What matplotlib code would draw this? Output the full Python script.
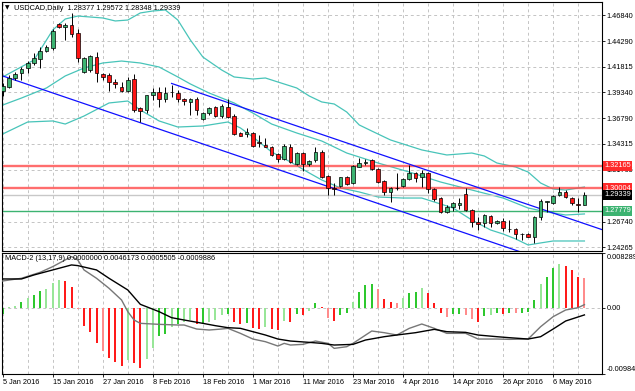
import matplotlib
matplotlib.use('Agg')
import matplotlib.pyplot as plt
from matplotlib.transforms import blended_transform_factory
import numpy as np

plt.rcParams['font.family'] = ['Liberation Sans', 'DejaVu Sans']

# ---------------- data ----------------
symbol = 'USDCAD,Daily'
date_labels = ['5 Jan 2016', '15 Jan 2016', '27 Jan 2016', '8 Feb 2016', '18 Feb 2016',
               '1 Mar 2016', '11 Mar 2016', '23 Mar 2016', '4 Apr 2016', '14 Apr 2016',
               '26 Apr 2016', '6 May 2016']
label_bars = [0, 8, 16, 24, 32, 40, 48, 56, 64, 72, 80, 88]

opens = [1.3947, 1.3981, 1.4068, 1.4117, 1.4165, 1.4214, 1.4253, 1.4337, 1.4360, 1.4594,
         1.4570, 1.4587, 1.4506, 1.4129, 1.4149, 1.4275, 1.4110, 1.4100, 1.4032, 1.3983,
         1.3945, 1.4061, 1.3779, 1.3760, 1.3906, 1.3935, 1.3867, 1.3930, 1.3922, 1.3867,
         1.3840, 1.3867, 1.3669, 1.3728, 1.3786, 1.3701, 1.3792, 1.3701, 1.3539, 1.3523,
         1.3539, 1.3448, 1.3419, 1.3403, 1.3332, 1.3280, 1.3403, 1.3234, 1.3338, 1.3234,
         1.3273, 1.3354, 1.3117, 1.2998, 1.3020, 1.3105, 1.3046, 1.3208, 1.3247, 1.3273,
         1.3183, 1.3072, 1.2965, 1.3004, 1.3020, 1.3085, 1.3144, 1.3105, 1.3144, 1.2988,
         1.2901, 1.2770, 1.2819, 1.2835, 1.2942, 1.2787, 1.2673, 1.2657, 1.2728, 1.2657,
         1.2680, 1.2599, 1.2599, 1.2553, 1.2553, 1.2527, 1.2716, 1.2868, 1.2858, 1.2933,
         1.2965, 1.2901, 1.2845, 1.28377]
highs = [1.4019, 1.4100, 1.4132, 1.4175, 1.4239, 1.4311, 1.4376, 1.4392, 1.4545, 1.4603,
         1.4603, 1.4701, 1.4545, 1.4278, 1.4295, 1.4327, 1.4123, 1.4117, 1.4058, 1.4035,
         1.4078, 1.4110, 1.3792, 1.3910, 1.3971, 1.3981, 1.3981, 1.4003, 1.3954, 1.3874,
         1.3874, 1.3889, 1.3743, 1.3792, 1.3799, 1.3818, 1.3864, 1.3721, 1.3549, 1.3582,
         1.3549, 1.3516, 1.3484, 1.3410, 1.3344, 1.3429, 1.3429, 1.3354, 1.3354, 1.3273,
         1.3403, 1.3370, 1.3127, 1.3046, 1.3111, 1.3117, 1.3224, 1.3290, 1.3280, 1.3280,
         1.3192, 1.3079, 1.3014, 1.3144, 1.3095, 1.3224, 1.3159, 1.3176, 1.3159, 1.2998,
         1.2910, 1.2835, 1.2868, 1.2901, 1.2998, 1.2793, 1.2722, 1.2748, 1.2738, 1.2689,
         1.2706, 1.2689, 1.2609, 1.2566, 1.2560, 1.2728, 1.2891, 1.2877, 1.2933, 1.3014,
         1.2981, 1.2916, 1.2901, 1.29572]
lows = [1.3896, 1.3970, 1.4052, 1.4052, 1.4117, 1.4198, 1.4165, 1.4327, 1.4344, 1.4555,
        1.4441, 1.4473, 1.4230, 1.4117, 1.4132, 1.4035, 1.4052, 1.3947, 1.3971, 1.3938,
        1.3938, 1.3743, 1.3646, 1.3728, 1.3857, 1.3792, 1.3840, 1.3889, 1.3840, 1.3808,
        1.3711, 1.3711, 1.3662, 1.3711, 1.3695, 1.3679, 1.3679, 1.3516, 1.3507, 1.3500,
        1.3397, 1.3403, 1.3397, 1.3312, 1.3257, 1.3273, 1.3241, 1.3225, 1.3169, 1.3215,
        1.3257, 1.3098, 1.2933, 1.2933, 1.3014, 1.3030, 1.3040, 1.3202, 1.3224, 1.3176,
        1.3046, 1.2933, 1.2868, 1.2981, 1.3014, 1.3079, 1.3062, 1.3014, 1.2949, 1.2877,
        1.2755, 1.2760, 1.2780, 1.2793, 1.2780, 1.2624, 1.2592, 1.2618, 1.2618, 1.2650,
        1.2585, 1.2576, 1.2502, 1.2495, 1.2521, 1.2463, 1.2689, 1.2770, 1.2845, 1.2923,
        1.2901, 1.2835, 1.2770, 1.28348]
closes = [1.3993, 1.4068, 1.4110, 1.4156, 1.4214, 1.4263, 1.4337, 1.4370, 1.4531, 1.4564,
          1.4582, 1.4499, 1.4263, 1.4266, 1.4285, 1.4120, 1.4081, 1.4032, 1.4013, 1.3945,
          1.4052, 1.3760, 1.3750, 1.3906, 1.3935, 1.3867, 1.3925, 1.3935, 1.3864, 1.3850,
          1.3867, 1.3760, 1.3728, 1.3776, 1.3701, 1.3799, 1.3695, 1.3526, 1.3510, 1.3549,
          1.3409, 1.3436, 1.3403, 1.3322, 1.3280, 1.3409, 1.3257, 1.3344, 1.3234, 1.3266,
          1.3354, 1.3111, 1.2998, 1.2991, 1.3105, 1.3040, 1.3215, 1.3247, 1.3257, 1.3183,
          1.3062, 1.2965, 1.2998, 1.3001, 1.3085, 1.3144, 1.3095, 1.3144, 1.2988, 1.2891,
          1.2770, 1.2819, 1.2852, 1.2852, 1.2787, 1.2673, 1.2650, 1.2738, 1.2663, 1.2680,
          1.2609, 1.2605, 1.2553, 1.2550, 1.2527, 1.2722, 1.2877, 1.2872, 1.2923, 1.2965,
          1.2910, 1.2852, 1.2838, 1.29339]

# Bollinger bands
bb_up_idx = [0, 5, 8, 10, 12, 16, 18, 20, 22, 24, 26, 28, 30, 32, 35, 37, 40, 42, 44, 47,
             49, 51, 53, 55, 57, 59, 62, 67, 71, 75, 77, 79, 82, 84, 86, 88, 90, 93]
bb_up = [1.4081, 1.4246, 1.4538, 1.4645, 1.4674, 1.4655, 1.4626, 1.4635, 1.4704, 1.4723,
         1.4733, 1.4635, 1.4441, 1.4275, 1.4149, 1.4081, 1.4061, 1.4071, 1.4032, 1.3974,
         1.3896, 1.3838, 1.3818, 1.3740, 1.3614, 1.3555, 1.3468, 1.3371, 1.3322, 1.3341,
         1.3312, 1.3244, 1.3205, 1.3156, 1.3049, 1.2991, 1.2981, 1.3010]
bb_mid_idx = [0, 3, 7, 10, 13, 16, 19, 22, 25, 28, 30, 33, 37, 40, 43, 47, 51, 55, 60, 65,
              70, 75, 80, 84, 87, 90, 93]
bb_mid = [1.3808, 1.3876, 1.3974, 1.4091, 1.4168, 1.4217, 1.4236, 1.4217, 1.4178, 1.4081,
          1.4013, 1.3925, 1.3828, 1.3730, 1.3623, 1.3536, 1.3458, 1.3341, 1.3244, 1.3156,
          1.3059, 1.2981, 1.2903, 1.2806, 1.2767, 1.2738, 1.2748]
bb_low_idx = [0, 4, 8, 10, 13, 17, 20, 22, 25, 28, 32, 36, 38, 40, 43, 46, 49, 51, 54, 57,
              60, 64, 67, 70, 72, 75, 78, 80, 82, 84, 86, 88, 93]
bb_low = [1.3526, 1.3643, 1.3653, 1.3623, 1.3701, 1.3828, 1.3847, 1.3760, 1.3653, 1.3594,
          1.3604, 1.3643, 1.3585, 1.3497, 1.3351, 1.3254, 1.3147, 1.3079, 1.3001, 1.2962,
          1.2913, 1.2903, 1.2903, 1.2845, 1.2806, 1.2689, 1.2592, 1.2553, 1.2505, 1.2446,
          1.2466, 1.2485, 1.2485]

# trend channel anchors (bar index, price)
chan_upper_idx = [27, 88]
chan_upper_px = [1.4018, 1.2757]
chan_lower_idx = [0, 88]
chan_lower_px = [1.4091, 1.2271]

# horizontal levels
res_levels = [1.32165, 1.30004]
sup_levels = [1.27779]

price_ticks = [1.46840, 1.44290, 1.41815, 1.39340, 1.36790, 1.34315, 1.31765,
               1.29290, 1.26740, 1.24265]
hidden_tick = 1.29290   # covered by the current-price box in the picture

# MACD-2 (13,17,9)
hist = [-0.00090, 0.00025, 0.00040, 0.00090, 0.00160, 0.00200, 0.00260, 0.00290, 0.00385, 0.00420,
        0.00410, 0.00325, -0.00010, -0.00260, -0.00350, -0.00525, -0.00640, -0.00740, -0.00800, -0.00860,
        -0.00775, -0.00825, -0.00890, -0.00760, -0.00600, -0.00410, -0.00390, -0.00275, -0.00240, -0.00210,
        -0.00175, -0.00240, -0.00225, -0.00200, -0.00175, -0.00100, -0.00085, -0.00200, -0.00240, -0.00225,
        -0.00300, -0.00310, -0.00275, -0.00310, -0.00325, -0.00190, -0.00210, -0.00090, -0.00100, -0.00035,
        0.00075, 0.00015, -0.00140, -0.00190, -0.00100, -0.00075, 0.00100, 0.00250, 0.00350, 0.00365,
        0.00285, 0.00140, 0.00090, 0.00085, 0.00160, 0.00235, 0.00250, 0.00310, 0.00225, 0.00085,
        -0.00075, -0.00125, -0.00090, -0.00080, -0.00095, -0.00165, -0.00200, -0.00115, -0.00100, -0.00075,
        -0.00085, -0.00070, -0.00075, -0.00065, -0.00050, 0.00125, 0.00360, 0.00475, 0.00600, 0.00665,
        0.00640, 0.00575, 0.00465, 0.0046173]
hist_state = ['G', 'g', 'g', 'G', 'g', 'G', 'G', 'g', 'g', 'g',
              'R', 'R', 'r', 'R', 'R', 'R', 'r', 'R', 'R', 'R',
              'g', 'R', 'R', 'g', 'g', 'G', 'G', 'g', 'G', 'g',
              'g', 'R', 'G', 'g', 'g', 'g', 'G', 'R', 'R', 'G',
              'R', 'R', 'g', 'R', 'R', 'g', 'R', 'G', 'R', 'g',
              'G', 'R', 'r', 'R', 'G', 'G', 'g', 'G', 'G', 'G',
              'r', 'R', 'R', 'r', 'g', 'G', 'G', 'g', 'R', 'R',
              'R', 'r', 'G', 'G', 'r', 'r', 'R', 'G', 'g', 'G',
              'R', 'G', 'r', 'G', 'G', 'G', 'g', 'G', 'G', 'g',
              'R', 'R', 'R', 'r']
macd_idx = [0, 3, 6, 8, 10, 11, 12, 13, 15, 17, 19, 20, 21, 22, 25, 28, 29, 31, 33, 35,
            36, 38, 40, 42, 44, 45, 46, 48, 50, 52, 53, 55, 56, 59, 61, 63, 65, 67, 69, 71,
            74, 76, 79, 81, 84, 86, 88, 90, 92, 93]
macd_line = [0.0041, 0.0045, 0.0054, 0.00625, 0.00725, 0.00775, 0.00725, 0.00575, 0.0045, 0.0030,
             0.00125, -0.0005, -0.00175, -0.00225, -0.0024, -0.0025, -0.0025, -0.0031, -0.00325, -0.0031,
             -0.0030, -0.00375, -0.0046, -0.0050, -0.00565, -0.00525, -0.0055, -0.0054, -0.0049, -0.00525,
             -0.0060, -0.00575, -0.00525, -0.0034, -0.00365, -0.0040, -0.0030, -0.00235, -0.0030, -0.00375,
             -0.00375, -0.0046, -0.0046, -0.00465, -0.0046, -0.00275, -0.00125, -0.00025, 0.0001, 0.0005505]
sig_idx = [0, 3, 5, 8, 11, 12, 15, 17, 20, 22, 25, 27, 29, 32, 34, 36, 38, 40, 42, 44,
           46, 49, 51, 53, 56, 58, 61, 63, 66, 69, 71, 74, 76, 79, 81, 84, 86, 88, 90, 93]
sig_line = [0.0044, 0.0044, 0.0050, 0.00575, 0.0065, 0.0064, 0.00575, 0.0045, 0.00275, 0.0006,
            -0.0005, -0.0014, -0.00175, -0.00225, -0.0026, -0.0029, -0.0030, -0.0035, -0.0040, -0.0046,
            -0.0049, -0.0051, -0.00525, -0.0055, -0.0054, -0.00475, -0.00425, -0.0040, -0.00365, -0.00315,
            -0.0035, -0.0036, -0.0040, -0.00425, -0.0044, -0.0046, -0.00425, -0.0031, -0.0019, -0.0009886]
macd_max = 0.008289
macd_min = -0.009840

# ---------------- layout ----------------
W, H = 635, 391
fig = plt.figure(figsize=(W / 100, H / 100), dpi=100)
fig.patch.set_facecolor('white')
ax = fig.add_axes([2 / W, 1 - 250.5 / H, 599.5 / W, 248.5 / H])
ax2 = fig.add_axes([2 / W, 1 - 374 / H, 599.5 / W, 121 / H])

xlim = (-0.112, 95.73)
px_per_unit = 232.0 / (1.46840 - 1.24265)
ylim = (1.24265 - 3.5 / px_per_unit, 1.46840 + 13 / px_per_unit)

FS = 5.3
grid_kw = dict(color='#c4c4c4', lw=0.7, ls=(0, (3, 3)), zorder=0)

# ---------------- main panel ----------------
ax.set_xlim(*xlim)
ax.set_ylim(*ylim)
for gx in range(0, 96, 4):
    ax.axvline(gx, **grid_kw)
for t in price_ticks:
    ax.axhline(t, **grid_kw)

band_c = '#48c4b9'
ax.plot(bb_up_idx, bb_up, color=band_c, lw=0.9, zorder=1)
ax.plot(bb_mid_idx, bb_mid, color=band_c, lw=0.9, zorder=1)
ax.plot(bb_low_idx, bb_low, color=band_c, lw=0.9, zorder=1)

for xs, ys, x0 in ((chan_upper_idx, chan_upper_px, chan_upper_idx[0]),
                   (chan_lower_idx, chan_lower_px, xlim[0])):
    slope = (ys[1] - ys[0]) / (xs[1] - xs[0])
    xe = np.array([x0, xlim[1]])
    ax.plot(xe, ys[0] + slope * (xe - xs[0]), color='#1010ff', lw=0.9, zorder=1.5)

for lv in res_levels:
    ax.axhline(lv, color='#ff4a4a', lw=1.7, alpha=0.8, zorder=1.2)
for lv in sup_levels:
    ax.axhline(lv, color='#3cb371', lw=1.0, zorder=1.2)
ax.axhline(closes[-1], color='#c8c8c8', lw=1.0, zorder=1.1)

idx = np.arange(len(closes))
o = np.array(opens); c = np.array(closes)
ax.vlines(idx, lows, highs, color='black', lw=0.7, zorder=3)
body_cols = ['#3cb371' if cc >= oo else '#ff1414' for oo, cc in zip(o, c)]
ax.bar(idx, np.maximum(np.abs(c - o), 0.00005), bottom=np.minimum(o, c), width=0.58,
       color=body_cols, edgecolor='black', linewidth=0.5, zorder=4)

ax.yaxis.tick_right()
ax.set_yticks(price_ticks)
ax.set_yticklabels(['' if t == hidden_tick else f'{t:.5f}' for t in price_ticks])
ax.tick_params(axis='y', labelsize=FS, length=2.2, width=0.6, pad=1.2, direction='out')
ax.set_xticks([])
for s in ax.spines.values():
    s.set_color('black'); s.set_linewidth(0.8)

tr = blended_transform_factory(ax.transAxes, ax.transData)
for lv, fc in ((res_levels[0], '#ff2a2a'), (res_levels[1], '#ff2a2a'),
               (closes[-1], '#000000'), (sup_levels[0], '#3cb371')):
    ax.text(1.0045, lv, f'{lv:.5f}', transform=tr, ha='left', va='center', color='white',
            fontsize=FS, zorder=10, clip_on=False,
            bbox=dict(boxstyle='square,pad=0.18', fc=fc, ec='none'))

fig.text(4.5 / W, 1 - 8 / H, '\u25bc', fontsize=4.2, va='center', ha='left',
         family=['DejaVu Sans'])
fig.text(14 / W, 1 - 8 / H,
         f'{symbol}  {opens[-1]:.5f} {highs[-1]:.5f} {lows[-1]:.5f} {closes[-1]:.5f}',
         fontsize=FS, va='center', ha='left')

# ---------------- MACD panel ----------------
ax2.set_xlim(*xlim)
ax2.set_ylim(macd_min, macd_max)
for gx in range(0, 96, 4):
    ax2.axvline(gx, **grid_kw)
ax2.axhline(0, **grid_kw)

state_col = {'G': '#2ec82e', 'g': '#98e698', 'R': '#ff1a1a', 'r': '#ff8c8c'}
ax2.bar(idx, hist, width=0.32, color=[state_col[s] for s in hist_state], linewidth=0, zorder=2)
ax2.plot(macd_idx, macd_line, color='#777777', lw=1.0, zorder=3)
ax2.plot(sig_idx, sig_line, color='black', lw=1.0, zorder=3)

ax2.yaxis.tick_right()
ax2.set_yticks([macd_max, 0, macd_min])
ax2.set_yticklabels([])
ax2.tick_params(axis='y', length=2.2, width=0.6, direction='out')
tr2 = blended_transform_factory(ax2.transAxes, ax2.transAxes)
ax2.text(1.008, 0.99, f'{macd_max:.6f}', transform=tr2, ha='left', va='top', fontsize=FS)
ax2.text(1.008, -macd_min / (macd_max - macd_min), '0.00', transform=tr2, ha='left',
         va='center', fontsize=FS)
ax2.text(1.008, 0.01, f'{macd_min:.6f}', transform=tr2, ha='left', va='bottom', fontsize=FS)

ax2.set_xticks(label_bars)
ax2.set_xticklabels(date_labels, ha='left')
ax2.tick_params(axis='x', labelsize=FS, length=2.2, width=0.6, pad=1.6, direction='out')
for s in ax2.spines.values():
    s.set_color('black'); s.set_linewidth(0.8)

fig.text(5 / W, 1 - 258.5 / H,
         f'MACD-2 (13,17,9) 0.0000000 {hist[-1]:.7f} {macd_line[-1]:.7f} {sig_line[-1]:.7f}',
         fontsize=FS, va='center', ha='left')

fig.savefig('out.png', dpi=100, facecolor='white')
